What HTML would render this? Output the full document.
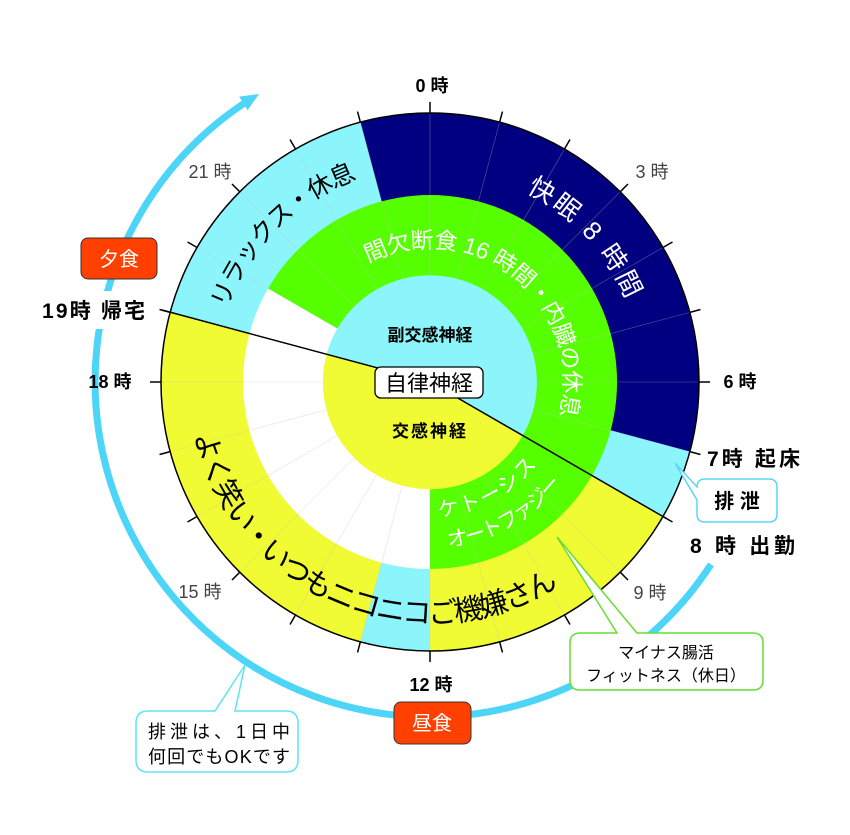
<!DOCTYPE html>
<html><head><meta charset="utf-8"><style>
html,body{margin:0;padding:0;background:#fff;}
svg{display:block;font-family:"Liberation Sans","Noto Sans CJK JP",sans-serif;}
</style></head><body>
<svg width="850" height="835" viewBox="0 0 850 835" xmlns="http://www.w3.org/2000/svg">
<rect width="850" height="835" fill="#fff"/>
<path d="M711 564.4 A335 335 0 1 1 243.6 103.6" fill="none" stroke="#4dd5f7" stroke-width="7"/>
<polygon points="259,94 247.6,110.2 239.2,96.6" fill="#4dd5f7"/>
<rect x="38" y="291" width="112" height="38" fill="#fff"/>

<circle cx="430" cy="382" r="269" fill="#8cf5fc"/>
<path d="M430 382 L360.4 122.2 A269 269 0 0 1 689.8 451.6Z" fill="#000080"/>
<path d="M430 382 L663 516.5 A269 269 0 0 1 430 651Z" fill="#f1fb33"/>
<path d="M430 382 L360.4 641.8 A269 269 0 0 1 170.2 312.4Z" fill="#f1fb33"/>
<path d="M430 382 L268.1 288.5 A187 187 0 1 1 430 569Z" fill="#55ff00"/>
<path d="M430 382 L430 569 A187 187 0 0 1 268.1 288.5Z" fill="#fff"/>
<g stroke="#c0c0c0" stroke-width="0.6" opacity="0.45">
<line x1="430" y1="275" x2="430" y2="113" transform="rotate(0 430 382)"/>
<line x1="430" y1="275" x2="430" y2="113" transform="rotate(15 430 382)"/>
<line x1="430" y1="275" x2="430" y2="113" transform="rotate(30 430 382)"/>
<line x1="430" y1="275" x2="430" y2="113" transform="rotate(45 430 382)"/>
<line x1="430" y1="275" x2="430" y2="113" transform="rotate(60 430 382)"/>
<line x1="430" y1="275" x2="430" y2="113" transform="rotate(75 430 382)"/>
<line x1="430" y1="275" x2="430" y2="113" transform="rotate(90 430 382)"/>
<line x1="430" y1="275" x2="430" y2="113" transform="rotate(105 430 382)"/>
<line x1="430" y1="275" x2="430" y2="113" transform="rotate(120 430 382)"/>
<line x1="430" y1="275" x2="430" y2="113" transform="rotate(135 430 382)"/>
<line x1="430" y1="275" x2="430" y2="113" transform="rotate(150 430 382)"/>
<line x1="430" y1="275" x2="430" y2="113" transform="rotate(165 430 382)"/>
<line x1="430" y1="275" x2="430" y2="113" transform="rotate(180 430 382)"/>
<line x1="430" y1="275" x2="430" y2="113" transform="rotate(195 430 382)"/>
<line x1="430" y1="275" x2="430" y2="113" transform="rotate(210 430 382)"/>
<line x1="430" y1="275" x2="430" y2="113" transform="rotate(225 430 382)"/>
<line x1="430" y1="275" x2="430" y2="113" transform="rotate(240 430 382)"/>
<line x1="430" y1="275" x2="430" y2="113" transform="rotate(255 430 382)"/>
<line x1="430" y1="275" x2="430" y2="113" transform="rotate(270 430 382)"/>
<line x1="430" y1="275" x2="430" y2="113" transform="rotate(285 430 382)"/>
<line x1="430" y1="275" x2="430" y2="113" transform="rotate(300 430 382)"/>
<line x1="430" y1="275" x2="430" y2="113" transform="rotate(315 430 382)"/>
<line x1="430" y1="275" x2="430" y2="113" transform="rotate(330 430 382)"/>
<line x1="430" y1="275" x2="430" y2="113" transform="rotate(345 430 382)"/>
</g>
<path d="M430 382 L326.6 354.3 A107 107 0 1 1 522.7 435.5Z" fill="#8cf5fc"/>
<path d="M430 382 L522.7 435.5 A107 107 0 0 1 326.6 354.3Z" fill="#f1fb33"/>
<circle cx="430" cy="382" r="269" fill="none" stroke="#000" stroke-width="1.5"/>
<g stroke="#000" stroke-width="1.5">
<line x1="430" y1="113" x2="430" y2="102" transform="rotate(0 430 382)"/>
<line x1="430" y1="113" x2="430" y2="102" transform="rotate(15 430 382)"/>
<line x1="430" y1="113" x2="430" y2="102" transform="rotate(30 430 382)"/>
<line x1="430" y1="113" x2="430" y2="102" transform="rotate(45 430 382)"/>
<line x1="430" y1="113" x2="430" y2="102" transform="rotate(60 430 382)"/>
<line x1="430" y1="113" x2="430" y2="102" transform="rotate(75 430 382)"/>
<line x1="430" y1="113" x2="430" y2="102" transform="rotate(90 430 382)"/>
<line x1="430" y1="113" x2="430" y2="102" transform="rotate(105 430 382)"/>
<line x1="430" y1="113" x2="430" y2="102" transform="rotate(120 430 382)"/>
<line x1="430" y1="113" x2="430" y2="102" transform="rotate(135 430 382)"/>
<line x1="430" y1="113" x2="430" y2="102" transform="rotate(150 430 382)"/>
<line x1="430" y1="113" x2="430" y2="102" transform="rotate(165 430 382)"/>
<line x1="430" y1="113" x2="430" y2="102" transform="rotate(180 430 382)"/>
<line x1="430" y1="113" x2="430" y2="102" transform="rotate(195 430 382)"/>
<line x1="430" y1="113" x2="430" y2="102" transform="rotate(210 430 382)"/>
<line x1="430" y1="113" x2="430" y2="102" transform="rotate(225 430 382)"/>
<line x1="430" y1="113" x2="430" y2="102" transform="rotate(240 430 382)"/>
<line x1="430" y1="113" x2="430" y2="102" transform="rotate(255 430 382)"/>
<line x1="430" y1="113" x2="430" y2="102" transform="rotate(270 430 382)"/>
<line x1="430" y1="113" x2="430" y2="102" transform="rotate(285 430 382)"/>
<line x1="430" y1="113" x2="430" y2="102" transform="rotate(300 430 382)"/>
<line x1="430" y1="113" x2="430" y2="102" transform="rotate(315 430 382)"/>
<line x1="430" y1="113" x2="430" y2="102" transform="rotate(330 430 382)"/>
<line x1="430" y1="113" x2="430" y2="102" transform="rotate(345 430 382)"/>
</g>
<line x1="430" y1="382" x2="162" y2="310" stroke="#000" stroke-width="1.5"/>
<line x1="430" y1="382" x2="666.4" y2="518.5" stroke="#000" stroke-width="1.5"/>

<defs>
<path id="p1" d="M492.3 178.3 A213 213 0 0 1 637.5 334.1"/>
<path id="p2" d="M221.4 326.1 A216 216 0 0 1 374.1 173.4"/>
<path id="p3" d="M343.9 279.4 A134 134 0 0 1 549.4 442.8"/>
<path id="p4" d="M191.1 413.5 A241 241 0 0 0 576.7 573.2"/>
<path id="p5" d="M425.3 516.9 A135 135 0 0 0 544.5 453.5"/>
<path id="p6" d="M428.6 548 A166 166 0 0 0 573 466.2"/>
</defs>
<text font-size="26" fill="#fff" text-anchor="middle"><textPath href="#p1" startOffset="50%" textLength="150" lengthAdjust="spacing">快眠 8 時間</textPath></text>
<text font-size="25" fill="#000" text-anchor="middle"><textPath href="#p2" startOffset="50%" textLength="190" lengthAdjust="spacing">リラックス・休息</textPath></text>
<text font-size="23" fill="#fff" text-anchor="middle"><textPath href="#p3" startOffset="50%" textLength="308" lengthAdjust="spacing">間欠断食 16 時間・内臓の休息</textPath></text>
<text font-size="29" fill="#000" text-anchor="middle"><textPath href="#p4" startOffset="50%" textLength="460" lengthAdjust="spacing">よく笑い・いつもニコニコご機嫌さん</textPath></text>
<text font-size="21" fill="#fff" text-anchor="middle"><textPath href="#p5" startOffset="50%" textLength="114" lengthAdjust="spacing">ケトーシス</textPath></text>
<text font-size="21" fill="#fff" text-anchor="middle"><textPath href="#p6" startOffset="50%" textLength="134" lengthAdjust="spacing">オートファジー</textPath></text>

<text x="430" y="341" font-size="17" font-weight="bold" text-anchor="middle">副交感神経</text>
<text x="430" y="437" font-size="17" font-weight="bold" text-anchor="middle" letter-spacing="2">交感神経</text>
<rect x="375" y="367" width="108" height="31" rx="6" fill="#fff" stroke="#000" stroke-width="1.3"/>
<text x="429" y="391" font-size="22" text-anchor="middle">自律神経</text>

<g font-size="18" text-anchor="middle">
<text x="432" y="92" font-weight="bold">0 時</text>
<text x="652" y="178" fill="#444">3 時</text>
<text x="740" y="388" font-weight="bold">6 時</text>
<text x="650" y="599" fill="#444">9 時</text>
<text x="431" y="691" font-weight="bold">12 時</text>
<text x="200" y="598" fill="#444">15 時</text>
<text x="110" y="388" font-weight="bold">18 時</text>
<text x="210" y="178" fill="#444">21 時</text>
</g>
<g font-size="21" font-weight="bold">
<text x="42" y="318" textLength="103" lengthAdjust="spacing">19時 帰宅</text>
<text x="707" y="466" textLength="93" lengthAdjust="spacing">7時 起床</text>
<text x="690" y="553" textLength="105" lengthAdjust="spacing">8 時 出勤</text>
</g>

<rect x="81" y="238" width="76" height="41" rx="7" fill="#ff4000" stroke="#333" stroke-width="1"/>
<text x="119" y="266" font-size="20" fill="#fff" text-anchor="middle">夕食</text>
<rect x="394" y="702" width="77" height="42" rx="7" fill="#ff4000" stroke="#333" stroke-width="1"/>
<text x="432" y="730" font-size="20" fill="#fff" text-anchor="middle">昼食</text>

<path d="M705 479 H769 Q777 479 777 487 V514 Q777 522 769 522 H705 Q697 522 697 514 V500 L675 463 L697 487 Q697 479 705 479Z" fill="#fff" stroke="#5cd6f5" stroke-width="1.5"/>
<text x="737" y="508" font-size="20" font-weight="bold" text-anchor="middle">排 泄</text>

<path d="M580 633 H617 L557 537 L637 633 H753 Q763 633 763 643 V680 Q763 690 753 690 H580 Q570 690 570 680 V643 Q570 633 580 633Z" fill="#fff" stroke="#66dd33" stroke-width="1.5"/>
<text x="666" y="658" font-size="16" text-anchor="middle">マイナス腸活</text>
<text x="666" y="681" font-size="16" text-anchor="middle">フィットネス（休日）</text>

<path d="M148 711 H215 L245 665 L235 711 H286 Q298 711 298 723 V760 Q298 772 286 772 H148 Q136 772 136 760 V723 Q136 711 148 711Z" fill="#fff" stroke="#5ce6f0" stroke-width="1.5"/>
<text x="148" y="738" font-size="18" textLength="142" lengthAdjust="spacing">排泄は、1日中</text>
<text x="148" y="763" font-size="18" textLength="142" lengthAdjust="spacing">何回でもOKです</text>
</svg>
</body></html>
